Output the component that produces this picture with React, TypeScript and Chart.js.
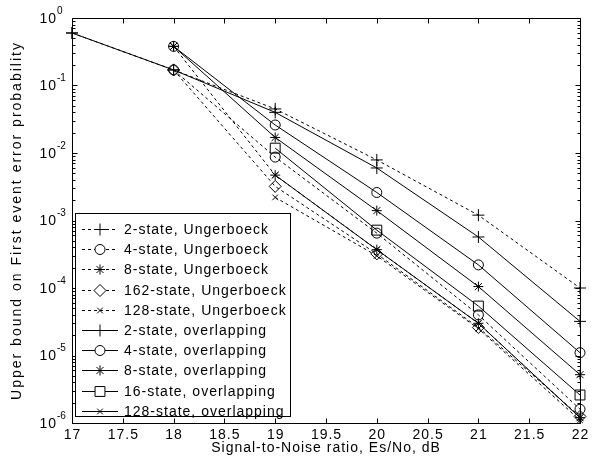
import React, { useEffect, useRef } from 'react';
import { Chart, registerables } from 'chart.js';
import { drawPoint } from 'chart.js/helpers';

Chart.register(...registerables);

const snr = [17, 18, 19, 20, 21, 22];
const xTickValues = [17, 17.5, 18, 18.5, 19, 19.5, 20, 20.5, 21, 21.5, 22];
const xTickLabels = ['17', '17.5', '18', '18.5', '19', '19.5', '20', '20.5', '21', '21.5', '22'];
const yExponents = [0, -1, -2, -3, -4, -5, -6];

const ung2 = [0.6, 0.17, 0.045, 0.0079, 0.0012, 1.0e-4];
const ung4 = [null, 0.17, 0.0087, 6.5e-4, 4.0e-5, 1.6e-6];
const ung8 = [null, 0.38, 0.0047, 3.7e-4, 3.0e-5, 1.2e-6];
const ung162 = [null, 0.17, 0.0032, 3.2e-4, 2.6e-5, 1.25e-6];
const ung128 = [null, null, 0.0022, 3.0e-4, 2.5e-5, 1.1e-6];
const ovl2 = [0.6, 0.17, 0.04, 0.006, 5.7e-4, 3.2e-5];
const ovl4 = [null, 0.38, 0.026, 0.0026, 2.2e-4, 1.1e-5];
const ovl8 = [null, 0.38, 0.017, 0.0014, 1.05e-4, 5.2e-6];
const ovl16 = [null, null, 0.0118, 7.2e-4, 5.4e-5, 2.6e-6];
const ovl128 = [null, null, 0.0047, 3.7e-4, 3.0e-5, 1.2e-6];

const seriesLabels = [
  '2-state, Ungerboeck',
  '4-state, Ungerboeck',
  '8-state, Ungerboeck',
  '162-state, Ungerboeck',
  '128-state, Ungerboeck',
  '2-state, overlapping',
  '4-state, overlapping',
  '8-state, overlapping',
  '16-state, overlapping',
  '128-state, overlapping',
];
const seriesValues = [ung2, ung4, ung8, ung162, ung128, ovl2, ovl4, ovl8, ovl16, ovl128];
const seriesDashed = [true, true, true, true, true, false, false, false, false, false];
const seriesMarkers = ['cross', 'circle', 'star', 'rectRot', 'crossRot', 'cross', 'circle', 'star', 'rect', 'crossRot'];
const markerRadius: Record<string, number> = { cross: 6, circle: 5, star: 5, rectRot: 6, crossRot: 4, rect: 7 };

const FONT = 'Arial, "Liberation Sans", sans-serif';
const DASH = [3, 3];

const framePlugin = {
  id: 'matlabFrame',
  afterDatasetsDraw(chart: any) {
    const { ctx, chartArea: a, scales } = chart;
    const xs = scales.x;
    const ys = scales.y;
    ctx.save();
    ctx.strokeStyle = '#000';
    ctx.fillStyle = '#000';
    ctx.lineWidth = 1;
    ctx.setLineDash([]);
    const L = Math.round(a.left) + 0.5;
    const R = Math.round(a.right) + 0.5;
    const T = Math.round(a.top) + 0.5;
    const B = Math.round(a.bottom) + 0.5;
    ctx.beginPath();
    ctx.rect(L, T, R - L, B - T);
    ctx.stroke();

    // x ticks
    ctx.beginPath();
    xTickValues.forEach((v) => {
      const px = Math.round(xs.getPixelForValue(v)) + 0.5;
      ctx.moveTo(px, B);
      ctx.lineTo(px, B - 5);
      ctx.moveTo(px, T);
      ctx.lineTo(px, T + 5);
    });
    // y ticks (major + minor)
    yExponents.forEach((e) => {
      const py = Math.round(ys.getPixelForValue(Math.pow(10, e))) + 0.5;
      ctx.moveTo(L, py);
      ctx.lineTo(L + 5, py);
      ctx.moveTo(R, py);
      ctx.lineTo(R - 5, py);
      if (e > -6) {
        for (let m = 2; m <= 9; m++) {
          const pm = Math.round(ys.getPixelForValue(m * Math.pow(10, e - 1))) + 0.5;
          ctx.moveTo(L, pm);
          ctx.lineTo(L + 3, pm);
          ctx.moveTo(R, pm);
          ctx.lineTo(R - 3, pm);
        }
      }
    });
    ctx.stroke();

    // x tick labels
    ctx.font = `14px ${FONT}`;
    ctx.letterSpacing = '1px';
    ctx.textAlign = 'center';
    ctx.textBaseline = 'middle';
    xTickValues.forEach((v, i) => {
      ctx.fillText(xTickLabels[i], xs.getPixelForValue(v) + 0.5, B + 12);
    });
    // y tick labels
    yExponents.forEach((e) => {
      const py = ys.getPixelForValue(Math.pow(10, e));
      ctx.font = `14px ${FONT}`;
      ctx.letterSpacing = '1px';
      ctx.textAlign = 'right';
      ctx.textBaseline = 'middle';
      ctx.fillText('10', 57, py + 1);
      ctx.font = `10px ${FONT}`;
      ctx.letterSpacing = '0px';
      ctx.textAlign = 'left';
      ctx.fillText(String(e), 57, py - 7);
    });
    // axis titles
    ctx.font = `14px ${FONT}`;
    ctx.letterSpacing = '1px';
    ctx.textAlign = 'center';
    ctx.textBaseline = 'middle';
    ctx.fillText('Signal-to-Noise ratio, Es/No, dB', (a.left + a.right) / 2, 448);
    ctx.save();
    ctx.letterSpacing = '2px';
    ctx.translate(17, (a.top + a.bottom) / 2);
    ctx.rotate(-Math.PI / 2);
    ctx.fillText('Upper bound on First event error probability', 0, 0);
    ctx.restore();

    // legend
    const bx = 75.5, by = 213.5, bw = 215, bh = 203;
    ctx.fillStyle = '#fff';
    ctx.fillRect(bx, by, bw, bh);
    ctx.strokeStyle = '#000';
    ctx.strokeRect(bx, by, bw, bh);
    seriesLabels.forEach((lab, i) => {
      const y = Math.round(229 + i * 20.2) + 0.5;
      ctx.strokeStyle = '#000';
      ctx.setLineDash(seriesDashed[i] ? DASH : []);
      ctx.beginPath();
      ctx.moveTo(82, y);
      ctx.lineTo(118, y);
      ctx.stroke();
      ctx.setLineDash([]);
      ctx.fillStyle = '#fff';
      drawPoint(ctx, { pointStyle: seriesMarkers[i], radius: markerRadius[seriesMarkers[i]], rotation: 0, borderWidth: 1 } as any, 100, y);
      ctx.fillStyle = '#000';
      ctx.font = `14px ${FONT}`;
      ctx.letterSpacing = '1px';
      ctx.textAlign = 'left';
      ctx.textBaseline = 'middle';
      ctx.fillText(lab, 124, y + 1);
    });
    ctx.restore();
  },
};

export default function App() {
  const ref = useRef<HTMLCanvasElement | null>(null);
  useEffect(() => {
    if (!ref.current) return;
    const datasets = seriesLabels.map((lab, i) => ({
      label: lab,
      data: snr
        .map((x, j) => ({ x, y: seriesValues[i][j] }))
        .filter((p) => p.y !== null),
      borderColor: '#000',
      borderWidth: 1,
      borderDash: seriesDashed[i] ? DASH : [],
      pointStyle: seriesMarkers[i],
      pointRadius: markerRadius[seriesMarkers[i]],
      pointBorderColor: '#000',
      pointBackgroundColor: 'rgba(0,0,0,0)',
      pointBorderWidth: 1,
      tension: 0,
      fill: false,
      clip: false as any,
    }));
    const chart = new Chart(ref.current, {
      type: 'line',
      data: { datasets },
      plugins: [framePlugin],
      options: {
        animation: false,
        responsive: false,
        maintainAspectRatio: false,
        layout: { padding: { left: 72, top: 18, right: 19, bottom: 42 } },
        plugins: { legend: { display: false }, tooltip: { enabled: false } },
        scales: {
          x: { type: 'linear', min: 17, max: 22, display: false },
          y: { type: 'logarithmic', min: 1e-6, max: 1, display: false },
        },
      },
    });
    return () => chart.destroy();
  }, []);
  return (
    <div style={{ position: 'fixed', left: 0, top: 0, width: 599, height: 465, background: '#fff' }}>
      <canvas ref={ref} width={599} height={465} />
    </div>
  );
}
